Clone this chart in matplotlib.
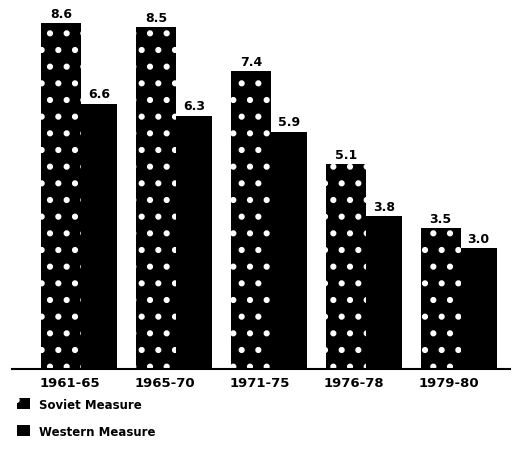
import numpy as np
import matplotlib.pyplot as plt
from matplotlib.patches import Patch

periods = ["1961-65", "1965-70", "1971-75", "1976-78", "1979-80"]
soviet = [8.6, 8.5, 7.4, 5.1, 3.5]
western = [6.6, 6.3, 5.9, 3.8, 3.0]

plt.rcParams["hatch.linewidth"] = 2.0

fig = plt.figure(figsize=(5.16, 4.52), dpi=100)
ax = fig.add_axes([12 / 516, 82 / 452, 498 / 516, 368 / 452])

x = np.arange(len(periods))
ws, ww = 0.42, 0.38
ax.bar(x, soviet, width=ws, align="edge", color="black",
       edgecolor="white", linewidth=0, hatch=".")
ax.bar(x + ws, western, width=ww, align="edge", color="black", linewidth=0)

for xi, v in zip(x, soviet):
    ax.text(xi + ws / 2, v + 0.08, f"{v:.1f}", ha="center", va="bottom",
            fontsize=9, fontweight="bold")
for xi, v in zip(x, western):
    ax.text(xi + ws + ww / 2, v + 0.08, f"{v:.1f}", ha="center", va="bottom",
            fontsize=9, fontweight="bold")

ax.set_xlim(-0.305, 4.94)
ax.set_ylim(0, 9.15)
ax.set_xticks(x + 0.3)
ax.set_xticklabels(periods, fontsize=9.5, fontweight="bold")
ax.tick_params(axis="x", length=0, pad=5)
ax.set_yticks([])
for s in ["top", "right", "left"]:
    ax.spines[s].set_visible(False)
ax.spines["bottom"].set_linewidth(1.5)

handles = [Patch(facecolor="black", edgecolor="white", linewidth=0, hatch="."),
           Patch(facecolor="black", linewidth=0)]
fig.legend(handles, ["Soviet Measure", "Western Measure"], loc="upper left",
           bbox_to_anchor=(6 / 516, 1 - 388 / 452), frameon=False,
           handlelength=1.1, handleheight=1.1, handletextpad=0.8,
           labelspacing=1.2, prop={"size": 8.5, "weight": "bold"})

fig.savefig("out.png", dpi=100)
